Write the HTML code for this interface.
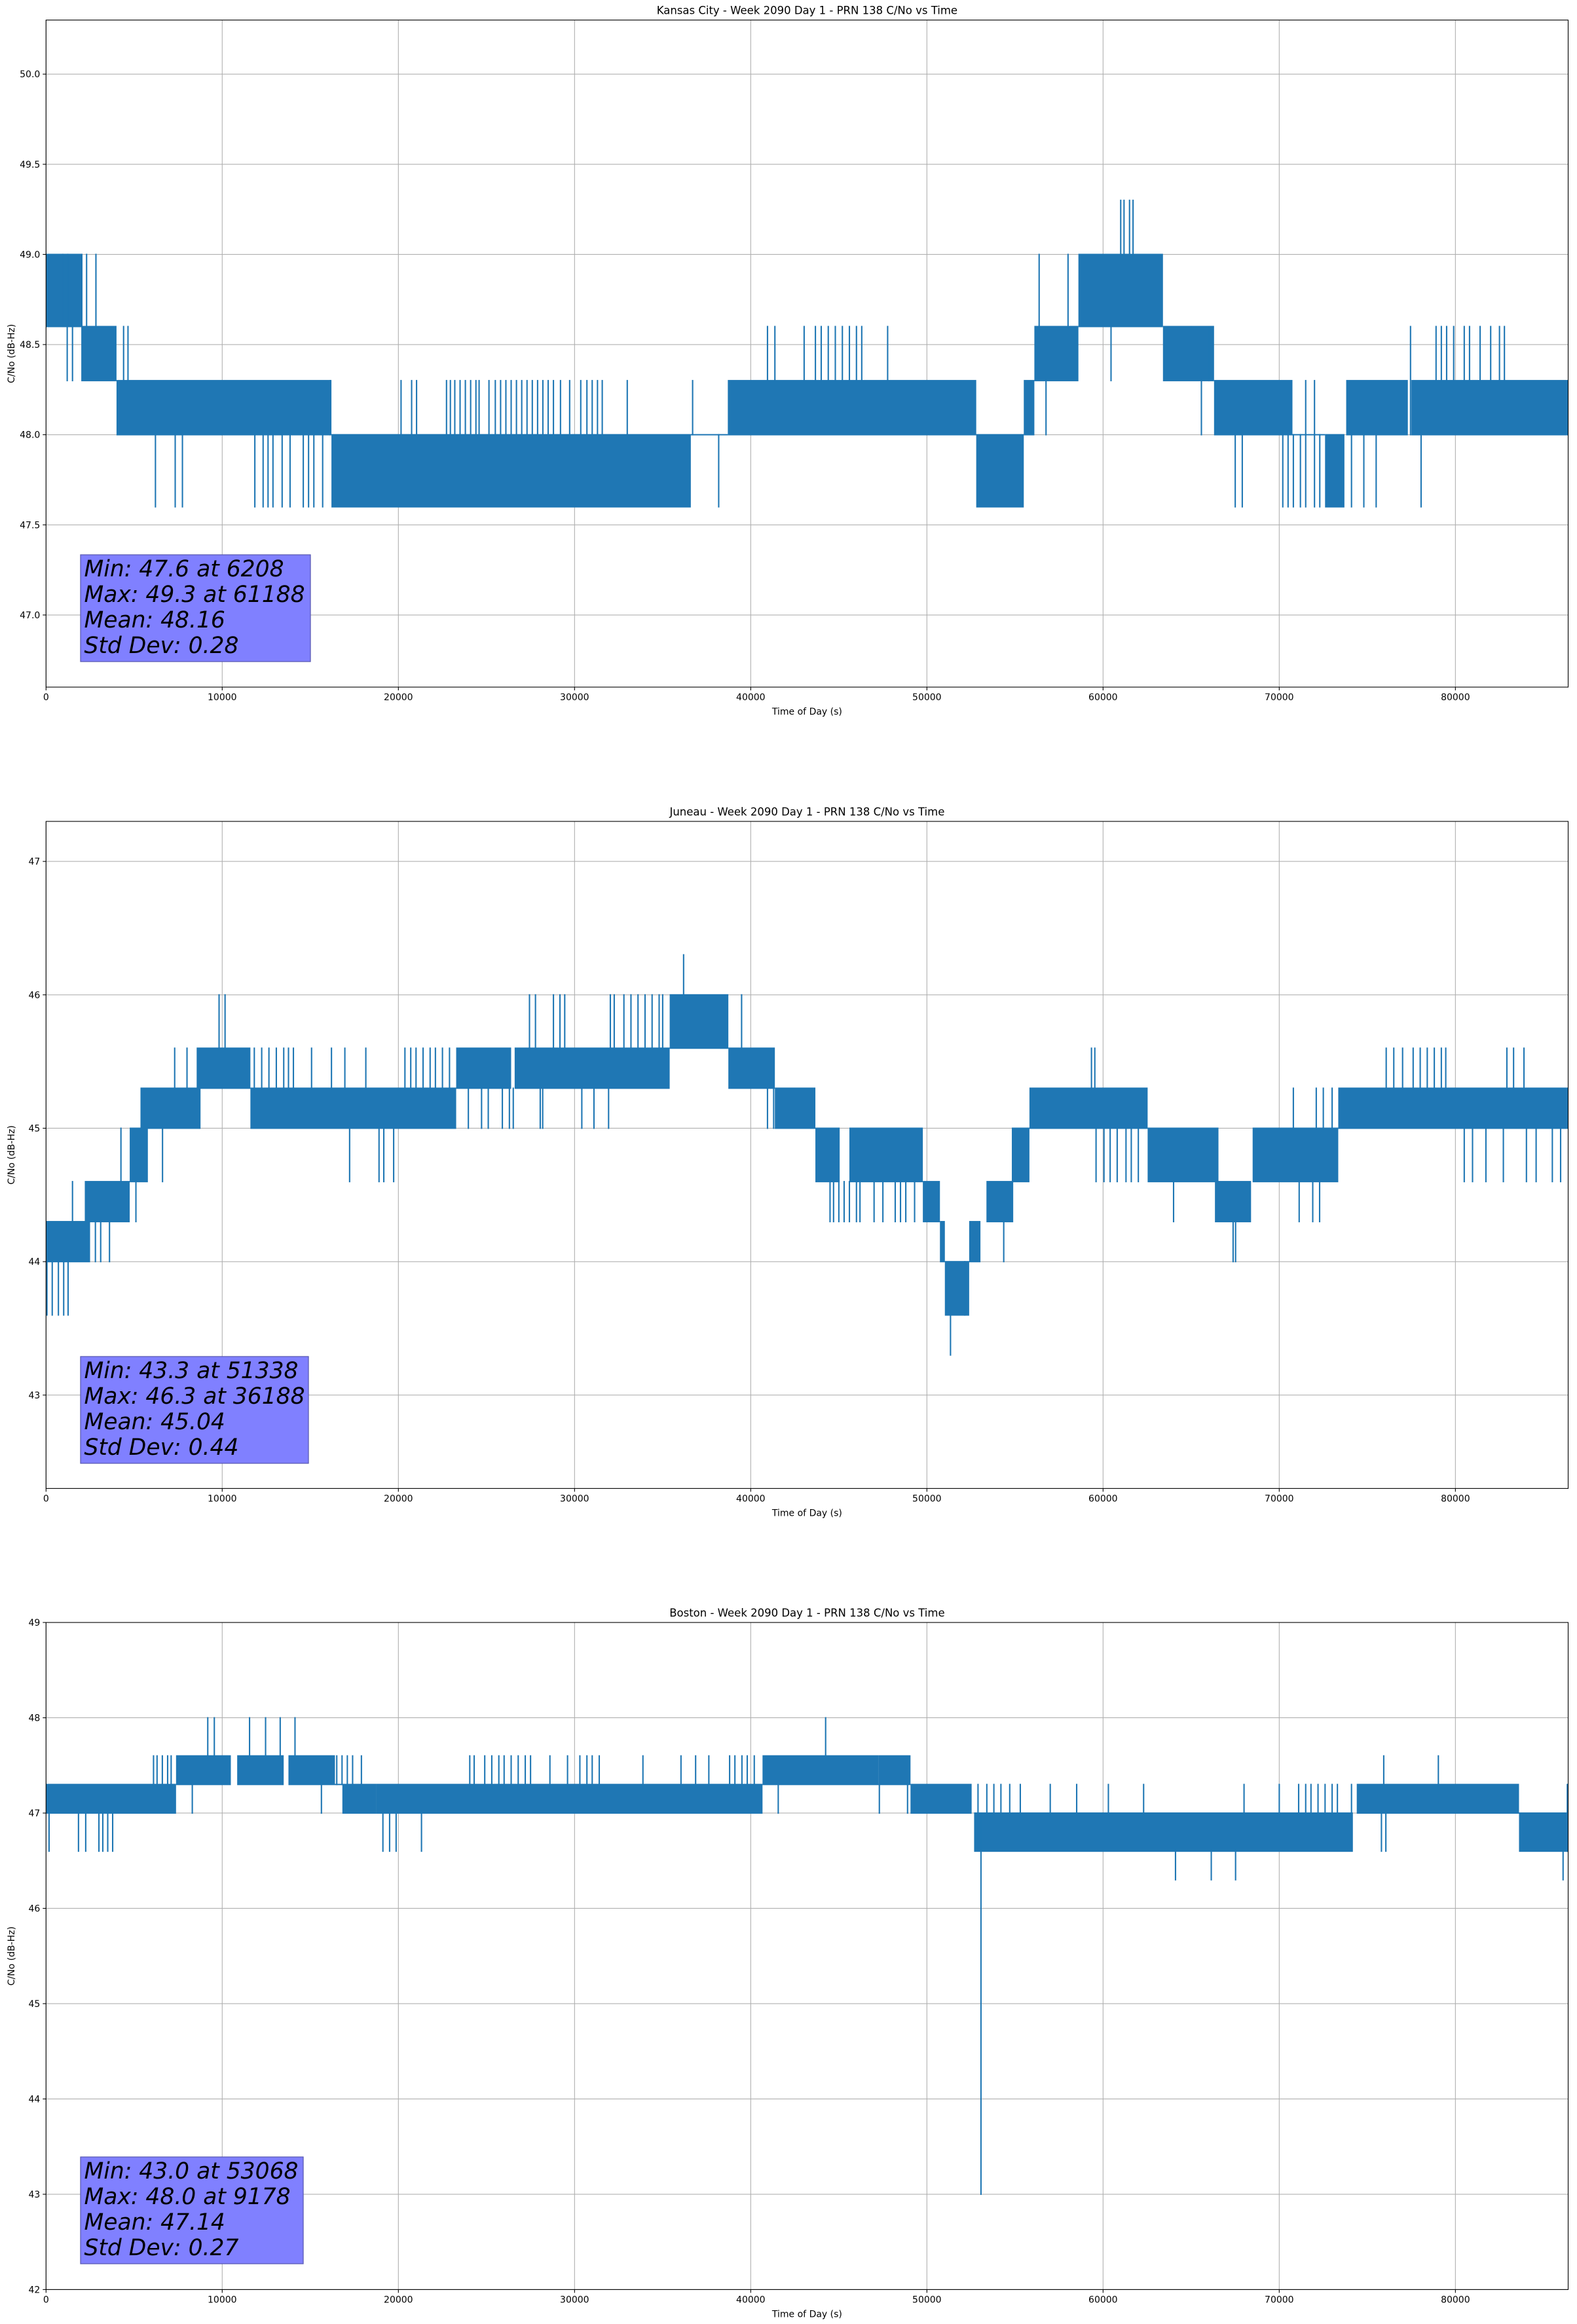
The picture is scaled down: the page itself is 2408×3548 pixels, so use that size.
<!DOCTYPE html>
<html>
<head>
<meta charset="utf-8">
<style>
  html,body{margin:0;padding:0;background:#fff;}
  svg{display:block;}
  text{font-family:"DejaVu Sans","Liberation Sans",sans-serif;fill:#000;}
</style>
</head>
<body>
<svg id="fig" xmlns="http://www.w3.org/2000/svg" width="2408" height="3548" viewBox="0 0 2408 3548"></svg>
<script>
// ---------- DATA ----------
const xTickValues = [0,10000,20000,30000,40000,50000,60000,70000,80000];

const c1Title = "Kansas City - Week 2090 Day 1 - PRN 138 C/No vs Time";
const c1YTicks = [47.0,47.5,48.0,48.5,49.0,49.5,50.0];
const c1Stats = ["Min: 47.6 at 6208","Max: 49.3 at 61188","Mean: 48.16","Std Dev: 0.28"];
// bands: [tStart, tEnd, low, high]
const c1Bands = [
 [0,2000,48.6,49.0],[2000,4000,48.3,48.6],[4000,16200,48.0,48.3],[16200,36600,47.6,48.0],
 [36600,38700,48.0,48.0],[38700,52800,48.0,48.3],[52800,55500,47.6,48.0],[55500,56100,48.0,48.3],
 [56100,58600,48.3,48.6],[58600,63400,48.6,49.0],[63400,66300,48.3,48.6],[66300,70750,48.0,48.3],
 [70750,72600,48.0,48.0],[72600,73700,47.6,48.0],[73800,77300,48.0,48.3],[77500,86400,48.0,48.3]
];
// spikes: [t, low, high]
const c1Spikes = [
 [950,48.6,49.0],[1230,48.6,49.0],[2030,48.6,49.0],[2300,48.6,49.0],[2830,48.6,49.0],
 [1200,48.3,48.6],[1500,48.3,48.6],[4400,48.3,48.6],[4650,48.3,48.6],
 [6208,47.6,48.0],[7330,47.6,48.0],[7740,47.6,48.0],[11850,47.6,48.0],[12320,47.6,48.0],[12600,47.6,48.0],
 [12880,47.6,48.0],[13400,47.6,48.0],[13850,47.6,48.0],[14600,47.6,48.0],[14900,47.6,48.0],[15200,47.6,48.0],[15700,47.6,48.0],
 [16120,48.0,48.3],[20150,48.0,48.3],[20750,48.0,48.3],[21030,48.0,48.3],[22730,48.0,48.3],[22950,48.0,48.3],
 [23200,48.0,48.3],[23500,48.0,48.3],[23800,48.0,48.3],[24100,48.0,48.3],[24400,48.0,48.3],[24580,48.0,48.3],
 [25140,48.0,48.3],[25500,48.0,48.3],[25800,48.0,48.3],[26100,48.0,48.3],[26400,48.0,48.3],[26700,48.0,48.3],
 [27000,48.0,48.3],[27300,48.0,48.3],[27600,48.0,48.3],[27900,48.0,48.3],[28200,48.0,48.3],[28500,48.0,48.3],
 [28800,48.0,48.3],[29200,48.0,48.3],[29720,48.0,48.3],[30350,48.0,48.3],[30700,48.0,48.3],[31000,48.0,48.3],
 [31300,48.0,48.3],[31570,48.0,48.3],[32990,48.0,48.3],[36700,48.0,48.3],
 [38180,47.6,48.0],[40950,48.3,48.6],[41370,48.3,48.6],[43030,48.3,48.6],[43670,48.3,48.6],[44000,48.3,48.6],
 [44400,48.3,48.6],[44800,48.3,48.6],[45200,48.3,48.6],[45600,48.3,48.6],[46000,48.3,48.6],[46300,48.3,48.6],[47770,48.3,48.6],
 [56370,48.6,49.0],[58010,48.6,49.0],[56760,48.0,48.3],[60450,48.3,48.6],
 [61000,49.0,49.3],[61188,49.0,49.3],[61500,49.0,49.3],[61700,49.0,49.3],
 [65000,48.6,48.6],[65580,48.0,48.3],[66000,48.3,48.6],
 [67500,47.6,48.0],[67900,47.6,48.0],[70200,47.6,48.0],[70500,47.6,48.0],[70800,47.6,48.0],[71200,47.6,48.0],
 [71500,47.6,48.3],[72000,47.6,48.3],[72300,47.6,48.0],[74100,47.6,48.0],[74800,47.6,48.0],[75500,47.6,48.0],[78050,47.6,48.0],
 [77450,48.0,48.6],[78900,48.3,48.6],[79200,48.3,48.6],[79500,48.3,48.6],[79900,48.3,48.6],[80500,48.3,48.6],
 [80800,48.3,48.6],[81400,48.3,48.6],[82000,48.3,48.6],[82500,48.3,48.6],[82780,48.3,48.6]
];

const c2Title = "Juneau - Week 2090 Day 1 - PRN 138 C/No vs Time";
const c2YTicks = [43,44,45,46,47];
const c2Stats = ["Min: 43.3 at 51338","Max: 46.3 at 36188","Mean: 45.04","Std Dev: 0.44"];
const c2Bands = [
 [0,2500,44.0,44.3],[2200,4750,44.3,44.6],[4750,5780,44.6,45.0],[5360,8770,45.0,45.3],
 [8550,11600,45.3,45.6],[11600,23280,45.0,45.3],[23280,26400,45.3,45.6],[26600,35400,45.3,45.6],
 [35400,38730,45.6,46.0],[38730,41370,45.3,45.6],[41370,43670,45.0,45.3],[43670,45050,44.6,45.0],
 [45600,49770,44.6,45.0],[49770,50740,44.3,44.6],[50740,51020,44.0,44.3],[51020,52400,43.6,44.0],
 [52400,53040,44.0,44.3],[53380,54900,44.3,44.6],[54820,55820,44.6,45.0],[55820,62530,45.0,45.3],
 [62530,66550,44.6,45.0],[66350,68400,44.3,44.6],[68490,73350,44.6,45.0],[73350,86400,45.0,45.3]
];
const c2Spikes = [
 [50,43.6,44.0],[350,43.6,44.0],[700,43.6,44.0],[1000,43.6,44.0],[1250,43.6,44.0],
 [1500,44.3,44.6],[2800,44.0,44.3],[3100,44.0,44.3],[3600,44.0,44.3],[4250,44.6,45.0],[5100,44.3,44.6],[6610,44.6,45.0],
 [7300,45.3,45.6],[8000,45.3,45.6],[8700,45.0,45.3],[9820,45.6,46.0],[10160,45.6,46.0],
 [11820,45.3,45.6],[12240,45.3,45.6],[12650,45.3,45.6],[13070,45.3,45.6],[13490,45.3,45.6],[13760,45.3,45.6],
 [14040,45.3,45.6],[15070,45.3,45.6],[16200,45.3,45.6],[16960,45.3,45.6],[18150,45.3,45.6],
 [17230,44.6,45.0],[18900,44.6,45.0],[19170,44.6,45.0],[19730,44.6,45.0],
 [20370,45.3,45.6],[20700,45.3,45.6],[21000,45.3,45.6],[21400,45.3,45.6],[21800,45.3,45.6],[22100,45.3,45.6],[22500,45.3,45.6],[22900,45.3,45.6],
 [23970,45.0,45.3],[24720,45.0,45.3],[25100,45.0,45.3],[25900,45.0,45.3],[26300,45.0,45.3],[26520,45.0,45.3],
 [28050,45.0,45.3],[28190,45.0,45.3],[30410,45.0,45.3],[31100,45.0,45.3],[31930,45.0,45.3],
 [27440,45.6,46.0],[27780,45.6,46.0],[28800,45.6,46.0],[29170,45.6,46.0],[29440,45.6,46.0],
 [32030,45.6,46.0],[32250,45.6,46.0],[32800,45.6,46.0],[33200,45.6,46.0],[33600,45.6,46.0],[34000,45.6,46.0],
 [34400,45.6,46.0],[34800,45.6,46.0],[35000,45.6,46.0],[39480,45.6,46.0],[36188,46.0,46.3],
 [40950,45.0,45.3],[41300,45.0,45.3],
 [44500,44.3,44.6],[44700,44.3,44.6],[45000,44.3,44.6],[45300,44.3,44.6],[45600,44.3,44.6],[46000,44.3,44.6],
 [46200,44.3,44.6],[47000,44.3,44.6],[47500,44.3,44.6],[48200,44.3,44.6],[48500,44.3,44.6],[48800,44.3,44.6],[49300,44.3,44.6],
 [51338,43.3,43.6],[52150,43.6,44.0],[54360,44.0,44.3],
 [59340,45.3,45.6],[59530,45.3,45.6],
 [59600,44.6,45.0],[60050,44.6,45.0],[60400,44.6,45.0],[60800,44.6,45.0],[61300,44.6,45.0],[61600,44.6,45.0],[62000,44.6,45.0],
 [64000,44.3,44.6],[67380,44.0,44.3],[67520,44.0,44.3],[71130,44.3,44.6],[71900,44.3,44.6],[72290,44.3,44.6],
 [70800,45.0,45.3],[72100,45.0,45.3],[72500,45.0,45.3],[73000,45.0,45.3],
 [76070,45.3,45.6],[76500,45.3,45.6],[77000,45.3,45.6],[77600,45.3,45.6],[78000,45.3,45.6],[78400,45.3,45.6],
 [78800,45.3,45.6],[79200,45.3,45.6],[79450,45.3,45.6],[82920,45.3,45.6],[83300,45.3,45.6],[83890,45.3,45.6],
 [80500,44.6,45.0],[80970,44.6,45.0],[81730,44.6,45.0],[82720,44.6,45.0],[84030,44.6,45.0],[84580,44.6,45.0],[85500,44.6,45.0],[85970,44.6,45.0]
];

const c3Title = "Boston - Week 2090 Day 1 - PRN 138 C/No vs Time";
const c3YTicks = [42,43,44,45,46,47,48,49];
const c3Stats = ["Min: 43.0 at 53068","Max: 48.0 at 9178","Mean: 47.14","Std Dev: 0.27"];
const c3Bands = [
 [0,7380,47.0,47.3],[7380,10490,47.3,47.6],[10850,13490,47.3,47.6],[13760,16400,47.3,47.6],
 [16400,16820,47.3,47.3],[16820,18760,47.0,47.3],[18760,40670,47.0,47.3],[40670,47270,47.3,47.6],
 [47270,49070,47.3,47.6],[49070,52540,47.0,47.3],[52680,74180,46.6,47.0],[74400,83610,47.0,47.3],
 [83610,86400,46.6,47.0]
];
const c3Spikes = [
 [170,46.6,47.0],[1840,46.6,47.0],[2250,46.6,47.0],[3000,46.6,47.0],[3220,46.6,47.0],[3500,46.6,47.0],[3780,46.6,47.0],
 [19120,46.6,47.0],[19500,46.6,47.0],[19870,46.6,47.0],[21310,46.6,47.0],
 [6100,47.3,47.6],[6300,47.3,47.6],[6600,47.3,47.6],[6900,47.3,47.6],[7100,47.3,47.6],
 [9178,47.6,48.0],[9550,47.6,48.0],[11550,47.6,48.0],[12460,47.6,48.0],[13290,47.6,48.0],[14130,47.6,48.0],
 [8300,47.0,47.3],[15630,47.0,47.3],
 [16500,47.3,47.6],[16800,47.3,47.6],[17100,47.3,47.6],[17400,47.3,47.6],[17900,47.3,47.6],
 [24050,47.3,47.6],[24300,47.3,47.6],[24900,47.3,47.6],[25300,47.3,47.6],[25700,47.3,47.6],[26000,47.3,47.6],
 [26400,47.3,47.6],[26800,47.3,47.6],[27200,47.3,47.6],[27500,47.3,47.6],[28600,47.3,47.6],[29600,47.3,47.6],
 [30300,47.3,47.6],[30700,47.3,47.6],[31000,47.3,47.6],[31400,47.3,47.6],[33880,47.3,47.6],[36040,47.3,47.6],
 [36870,47.3,47.6],[37620,47.3,47.6],[38800,47.3,47.6],[39100,47.3,47.6],[39500,47.3,47.6],[39800,47.3,47.6],[40200,47.3,47.6],
 [41560,47.0,47.3],[44250,47.6,48.0],[47300,47.0,47.3],[48900,47.0,47.3],
 [53068,43.0,47.0],[64110,46.3,46.6],[66140,46.3,46.6],[67520,46.3,46.6],[86110,46.3,46.6],
 [52900,47.0,47.3],[53400,47.0,47.3],[53800,47.0,47.3],[54200,47.0,47.3],[54700,47.0,47.3],[55300,47.0,47.3],
 [57000,47.0,47.3],[58500,47.0,47.3],[60300,47.0,47.3],[62300,47.0,47.3],[68000,47.0,47.3],[70000,47.0,47.3],
 [71100,47.0,47.3],[71500,47.0,47.3],[71800,47.0,47.3],[72200,47.0,47.3],[72600,47.0,47.3],[73000,47.0,47.3],[73300,47.0,47.3],[74100,47.0,47.3],
 [75930,47.3,47.6],[79030,47.3,47.6],[75800,46.6,47.0],[76050,46.6,47.0],[86350,46.6,47.3]
];

// ---------- LAYOUT ----------
const NS = "http://www.w3.org/2000/svg";
const svg = document.getElementById('fig');
const LEFT = 70.3, RIGHT = 2394.5, XMAX = 86400;
const BLUE = "#1f77b4";

function mk(tag, attrs, parent){
  const e = document.createElementNS(NS, tag);
  for (const k in attrs) e.setAttribute(k, attrs[k]);
  (parent||svg).appendChild(e);
  return e;
}

const charts = [
 {key:'kansas-city', title:c1Title, top:30.6, bottom:1049, ymin:46.6, ymax:50.3, yTicks:c1YTicks, dec:1, bands:c1Bands, spikes:c1Spikes, stats:c1Stats, box:[123,847,474,1010]},
 {key:'juneau', title:c2Title, top:1254, bottom:2272.4, ymin:42.3, ymax:47.3, yTicks:c2YTicks, dec:0, bands:c2Bands, spikes:c2Spikes, stats:c2Stats, box:[123,2071,471,2234]},
 {key:'boston', title:c3Title, top:2477, bottom:3495.4, ymin:42, ymax:49, yTicks:c3YTicks, dec:0, bands:c3Bands, spikes:c3Spikes, stats:c3Stats, box:[123,3293,463,3456]}
];

charts.forEach((c, ci) => {
  const X = t => LEFT + (t / XMAX) * (RIGHT - LEFT);
  const Y = v => c.bottom - (v - c.ymin) / (c.ymax - c.ymin) * (c.bottom - c.top);
  const g = mk('g', {});
  
  

  // clip
  const cp = mk('clipPath', {id:'clip' + ci}, g);
  mk('rect', {x:LEFT, y:c.top, width:RIGHT-LEFT, height:c.bottom-c.top}, cp);

  // grid
  xTickValues.forEach(t => {
    const l = mk('line', {x1:X(t), x2:X(t), y1:c.top, y2:c.bottom, stroke:'#b0b0b0', 'stroke-width':1.1}, g);
    
    
  });
  c.yTicks.forEach(v => {
    const l = mk('line', {x1:LEFT, x2:RIGHT, y1:Y(v), y2:Y(v), stroke:'#b0b0b0', 'stroke-width':1.1}, g);
    
    
  });

  // series
  const s = mk('g', {'clip-path':'url(#clip' + ci + ')', fill:BLUE}, g);
  
  
  c.bands.forEach(b => {
    const x0 = X(b[0]), x1 = X(b[1]);
    const yt = Y(b[3]) - 1, yb = Y(b[2]) + 1;
    const r = mk('rect', {x:x0, y:yt, width:Math.max(2, x1 - x0), height:Math.max(2, yb - yt)}, s);
    
    
  });
  c.spikes.forEach(p => {
    const yt = Y(p[2]) - 1, yb = Y(p[1]) + 1;
    const r = mk('rect', {x:X(p[0]) - 1, y:yt, width:2.1, height:Math.max(2, yb - yt)}, s);
    
    
  });

  // spines
  const sp = mk('rect', {x:LEFT, y:c.top, width:RIGHT-LEFT, height:c.bottom-c.top, fill:'none', stroke:'#000', 'stroke-width':1.1}, g);
  
  

  // x ticks
  xTickValues.forEach(t => {
    mk('line', {x1:X(t), x2:X(t), y1:c.bottom, y2:c.bottom + 5, stroke:'#000', 'stroke-width':1.1}, g);
    const tx = mk('text', {x:X(t), y:c.bottom + 20, 'font-size':14, 'text-anchor':'middle'}, g);
    tx.textContent = String(t);
    
    
  });
  // y ticks
  c.yTicks.forEach(v => {
    mk('line', {x1:LEFT - 5, x2:LEFT, y1:Y(v), y2:Y(v), stroke:'#000', 'stroke-width':1.1}, g);
    const ty = mk('text', {x:LEFT - 9, y:Y(v) + 5, 'font-size':14, 'text-anchor':'end'}, g);
    ty.textContent = v.toFixed(c.dec);
    
    
  });

  // title
  const tt = mk('text', {x:(LEFT + RIGHT) / 2, y:c.top - 9, 'font-size':16.5, 'text-anchor':'middle'}, g);
  tt.textContent = c.title;
  
  

  // axis labels
  const xl = mk('text', {x:(LEFT + RIGHT) / 2, y:c.bottom + 42, 'font-size':14, 'text-anchor':'middle'}, g);
  xl.textContent = 'Time of Day (s)';
  
  
  const ym = (c.top + c.bottom) / 2;
  const yl = mk('text', {x:0, y:0, 'font-size':14, 'text-anchor':'middle', transform:'translate(22,' + ym + ') rotate(-90)'}, g);
  yl.textContent = 'C/No (dB-Hz)';
  
  

  // stats box
  const bx = c.box;
  const bg = mk('g', {}, g);
  
  
  mk('rect', {x:bx[0], y:bx[1], width:bx[2] - bx[0], height:bx[3] - bx[1], fill:'#8080ff', stroke:'#5a5ab4', 'stroke-width':1.3}, bg);
  c.stats.forEach((line, i) => {
    const st = mk('text', {x:bx[0] + 5.5, y:bx[1] + 33 + i * 39, 'font-size':34.5, 'font-style':'italic'}, bg);
    st.textContent = line;
    
    
  });
});
</script>
</body>
</html>
